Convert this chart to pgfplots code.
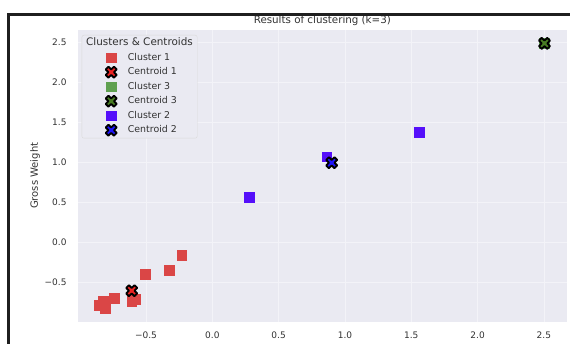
\documentclass[border=0pt]{standalone}
\usepackage{pgfplots}
\pgfplotsset{compat=1.18}
\usepackage{fontspec}
\setmainfont{DejaVu Sans}
\definecolor{bgc}{RGB}{234,234,242}
\definecolor{gridc}{RGB}{243,243,248}
\definecolor{txt}{RGB}{50,50,50}
\definecolor{c1}{RGB}{218,70,70}
\definecolor{cen1}{RGB}{235,35,35}
\definecolor{c3}{RGB}{95,160,80}
\definecolor{cen3}{RGB}{72,125,35}
\definecolor{c2}{RGB}{85,15,250}
\definecolor{cen2}{RGB}{30,20,250}

\pgfdeclareplotmark{Xf}{%
 \pgftransformrotate{45}%
 \pgfpathmoveto{\pgfqpoint{-1.95bp}{-5.85bp}}%
 \pgfpathlineto{\pgfqpoint{1.95bp}{-5.85bp}}%
 \pgfpathlineto{\pgfqpoint{1.95bp}{-1.95bp}}%
 \pgfpathlineto{\pgfqpoint{5.85bp}{-1.95bp}}%
 \pgfpathlineto{\pgfqpoint{5.85bp}{1.95bp}}%
 \pgfpathlineto{\pgfqpoint{1.95bp}{1.95bp}}%
 \pgfpathlineto{\pgfqpoint{1.95bp}{5.85bp}}%
 \pgfpathlineto{\pgfqpoint{-1.95bp}{5.85bp}}%
 \pgfpathlineto{\pgfqpoint{-1.95bp}{1.95bp}}%
 \pgfpathlineto{\pgfqpoint{-5.85bp}{1.95bp}}%
 \pgfpathlineto{\pgfqpoint{-5.85bp}{-1.95bp}}%
 \pgfpathlineto{\pgfqpoint{-1.95bp}{-1.95bp}}%
 \pgfpathclose
 \pgfusepathqfillstroke}

\begin{document}
\begin{tikzpicture}
\begin{axis}[
 at={(78bp,22.3bp)}, anchor=south west,
 scale only axis, width=488.7bp, height=291.7bp,
 xmin=-1.013, xmax=2.672, ymin=-0.9925, ymax=2.654,
 axis background/.style={fill=bgc},
 axis line style={draw=none},
 major tick length=0pt,
 grid=major, major grid style={gridc, line width=0.7bp},
 xtick={-0.5,0,0.5,1,1.5,2,2.5},
 xticklabels={−0.5,0.0,0.5,1.0,1.5,2.0,2.5},
 ytick={-0.5,0,0.5,1,1.5,2,2.5},
 yticklabels={−0.5,0.0,0.5,1.0,1.5,2.0,2.5},
 tick label style={font=\fontsize{9bp}{10bp}\selectfont, text=txt},
 xticklabel style={inner sep=0pt, anchor=north, yshift=-10.3bp},
 yticklabel style={inner sep=0pt, anchor=east, xshift=-11.3bp},
 title={Results of clustering (k=3)},
 every axis title/.style={at={(axis description cs:0.5,1)}, anchor=base, yshift=6bp, inner sep=0pt, font=\fontsize{10.3bp}{12bp}\selectfont, text=txt},
 ylabel={Gross Weight},
 every axis y label/.style={at={(axis description cs:-0.088,0.5)}, rotate=90, anchor=center, inner sep=0pt, font=\fontsize{10bp}{12bp}\selectfont, text=txt},
 legend image code/.code={\path[draw=none,fill=none,rounded corners=0pt] (-25bp,-5bp) rectangle (16.7bp,5bp); \draw[#1,overlay] plot coordinates {(0bp,0bp)};},
 legend style={at={(axis description cs:0,1)}, anchor=north west, xshift=3.7bp, yshift=-5bp,
   fill=bgc, draw=black!15, rounded corners=2bp, inner xsep=4.3bp, inner ysep=3bp,
   row sep=4.5bp, column sep=0pt, font=\fontsize{9.4bp}{11bp}\selectfont, text=txt,
   nodes={inner sep=0pt, text height=7.5bp, text depth=2.5bp}},
 legend cell align=left,
]
\addlegendimage{empty legend}
\addlegendentry{\hspace*{-41.7bp}{\fontsize{10.4bp}{12bp}\selectfont Clusters \& Centroids}}

\addplot[only marks, mark=square*, mark size=4.75bp, color=c1, mark options={fill=c1, draw=c1}] coordinates {
(-0.231,-0.159) (-0.324,-0.346) (-0.508,-0.396) (-0.739,-0.700) (-0.583,-0.712)
(-0.608,-0.734) (-0.822,-0.734) (-0.854,-0.784) (-0.809,-0.825)};
\addlegendentry{Cluster 1}
\addplot[only marks, mark=Xf, mark options={fill=cen1, draw=black, line width=1.8bp, line join=round}] coordinates {(-0.608,-0.605)};
\addlegendentry{Centroid 1}
\addplot[only marks, mark=square*, mark size=4.75bp, color=c3, mark options={fill=c3, draw=c3}] coordinates {(2.504,2.487)};
\addlegendentry{Cluster 3}
\addplot[only marks, mark=Xf, mark options={fill=cen3, draw=black, line width=1.8bp, line join=round}] coordinates {(2.504,2.487)};
\addlegendentry{Centroid 3}
\addplot[only marks, mark=square*, mark size=4.75bp, color=c2, mark options={fill=c2, draw=c2}] coordinates {
(0.279,0.5625) (0.863,1.07) (1.561,1.375)};
\addlegendentry{Cluster 2}
\addplot[only marks, mark=Xf, mark options={fill=cen2, draw=black, line width=1.8bp, line join=round}] coordinates {(0.900,0.995)};
\addlegendentry{Centroid 2}
\end{axis}
\draw[line width=2.7bp, color=black!88, line join=miter] (8.7bp,-2bp) -- (8.7bp,329.4bp) -- (572bp,329.4bp);
\pgfresetboundingbox
\useasboundingbox (0,0) rectangle (570bp,344bp);
\end{tikzpicture}
\end{document}
